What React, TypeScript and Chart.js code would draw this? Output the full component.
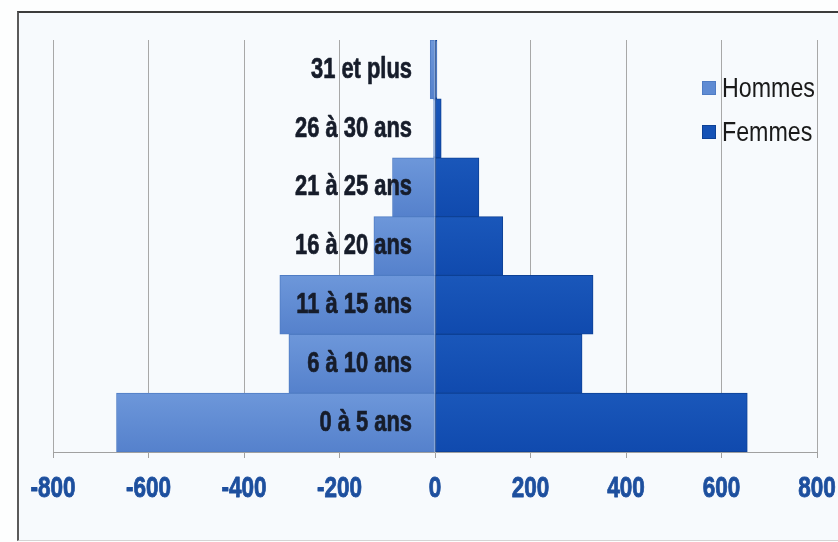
import React, { useEffect, useRef } from 'react';
import { Chart, registerables } from 'chart.js';

Chart.register(...registerables);

const categories = ['0 à 5 ans', '6 à 10 ans', '11 à 15 ans', '16 à 20 ans', '21 à 25 ans', '26 à 30 ans', '31 et plus'];
const hommes = [-667, -306, -325, -128, -89, -3, -10];
const femmes = [654, 308, 331, 142, 92, 13, 4];
const seriesNames = ['Hommes', 'Femmes'];
const xMin = -800;
const xMax = 800;
const xStep = 200;

const FONT = '"Liberation Sans", Arial, sans-serif';
const HOMMES_COLOR = '#5f8bd3';
const HOMMES_BORDER = '#4f7cc4';
const FEMMES_COLOR = '#1552b6';
const FEMMES_BORDER = '#0d4196';

// Draws narrow (Arial Narrow-like) text by compressing the glyphs horizontally.
function narrowText(ctx: CanvasRenderingContext2D, text: string, x: number, y: number, sx: number, heavy = 0) {
  ctx.save();
  ctx.translate(x, y);
  ctx.scale(sx, 1);
  if (heavy > 0) {
    ctx.lineWidth = heavy;
    ctx.lineJoin = 'round';
    ctx.strokeStyle = ctx.fillStyle;
    ctx.strokeText(text, 0, 0);
  }
  ctx.fillText(text, 0, 0);
  ctx.restore();
}

const narrowLabels = {
  id: 'narrowLabels',
  afterDatasetsDraw(chart: any) {
    const { ctx, chartArea } = chart;
    const xs = chart.scales.x;
    const ys = chart.scales.y;
    ctx.save();
    // category labels, right-aligned just left of the zero line
    ctx.font = `bold 30px ${FONT}`;
    ctx.textAlign = 'right';
    ctx.textBaseline = 'middle';
    ctx.fillStyle = '#161c2a';
    const zeroX = xs.getPixelForValue(0);
    ys.ticks.forEach((_t: any, i: number) => {
      const label = String(chart.data.labels[i]);
      narrowText(ctx, label, zeroX - 23, ys.getPixelForTick(i), 0.73, 0.7);
    });
    // value axis labels
    ctx.textAlign = 'center';
    ctx.fillStyle = '#1d4f9e';
    xs.ticks.forEach((t: any) => {
      narrowText(ctx, String(t.value), xs.getPixelForValue(t.value), chartArea.bottom + 37, 0.75, 0.9);
    });
    ctx.restore();
  },
  afterDraw(chart: any) {
    const { ctx, chartArea } = chart;
    ctx.save();
    ctx.font = `28px ${FONT}`;
    ctx.textBaseline = 'middle';
    ctx.textAlign = 'left';
    const x0 = chartArea.right - 115;
    chart.data.datasets.forEach((ds: any, i: number) => {
      const y = chartArea.top + 48 + i * 44;
      ctx.fillStyle = i === 0 ? HOMMES_COLOR : FEMMES_COLOR;
      ctx.fillRect(x0, y - 7, 14, 14);
      ctx.strokeStyle = i === 0 ? HOMMES_BORDER : FEMMES_BORDER;
      ctx.lineWidth = 1;
      ctx.strokeRect(x0 + 0.5, y - 6.5, 13, 13);
      ctx.fillStyle = '#1a1a1a';
      narrowText(ctx, ds.label, x0 + 20, y + 1, 0.83);
    });
    ctx.restore();
  },
};

function barGradient(top: string, bottom: string) {
  return (context: any) => {
    const chart = context.chart;
    const ys = chart.scales && chart.scales.y;
    if (!ys || context.dataIndex === undefined || !chart.chartArea) return top;
    const c = ys.getPixelForTick(context.dataIndex);
    const half = (chart.chartArea.bottom - chart.chartArea.top) / categories.length / 2;
    const g = chart.ctx.createLinearGradient(0, c - half, 0, c + half);
    g.addColorStop(0, top);
    g.addColorStop(1, bottom);
    return g;
  };
}

export default function App() {
  const canvasRef = useRef<HTMLCanvasElement | null>(null);

  useEffect(() => {
    const canvas = canvasRef.current;
    if (!canvas) return;
    const chart = new Chart(canvas, {
      type: 'bar',
      data: {
        labels: categories,
        datasets: [
          {
            label: seriesNames[0],
            data: hommes,
            backgroundColor: barGradient('#6d97da', '#5581cc'),
            borderColor: HOMMES_BORDER,
            borderWidth: 1,
            borderSkipped: false,
            barPercentage: 1,
            categoryPercentage: 1,
          },
          {
            label: seriesNames[1],
            data: femmes,
            backgroundColor: barGradient('#1a57ba', '#104aae'),
            borderColor: FEMMES_BORDER,
            borderWidth: 1,
            borderSkipped: false,
            barPercentage: 1,
            categoryPercentage: 1,
          },
        ],
      },
      options: {
        indexAxis: 'y',
        responsive: false,
        animation: false,
        layout: { padding: { left: 53, right: 21, top: 40, bottom: 84 } },
        plugins: {
          legend: { display: false },
          tooltip: { enabled: false },
        },
        scales: {
          x: {
            type: 'linear',
            min: xMin,
            max: xMax,
            stacked: true,
            ticks: { stepSize: xStep, display: false },
            grid: {
              color: '#a8a8a8',
              lineWidth: 1,
              drawTicks: true,
              tickLength: 6,
              tickColor: '#a0a0a0',
            },
            border: { display: true, color: '#a0a0a0' },
          },
          y: {
            type: 'category',
            stacked: true,
            reverse: true,
            display: false,
          },
        },
      },
      plugins: [narrowLabels],
    } as any);
    return () => chart.destroy();
  }, []);

  return (
    <div style={{ position: 'fixed', left: 0, top: 0, width: 838, height: 542, background: '#fdfefe', overflow: 'hidden' }}>
      <div
        style={{
          position: 'absolute',
          left: 17,
          top: 11,
          width: 840,
          height: 527,
          background: '#f7fafd',
          borderTop: '2px solid #3c3c3c',
          borderLeft: '2px solid #5a5a5a',
          borderBottom: '1px solid #d4d4d4',
        }}
      />
      <canvas ref={canvasRef} width={838} height={542} style={{ position: 'absolute', left: 0, top: 0 }} />
    </div>
  );
}
